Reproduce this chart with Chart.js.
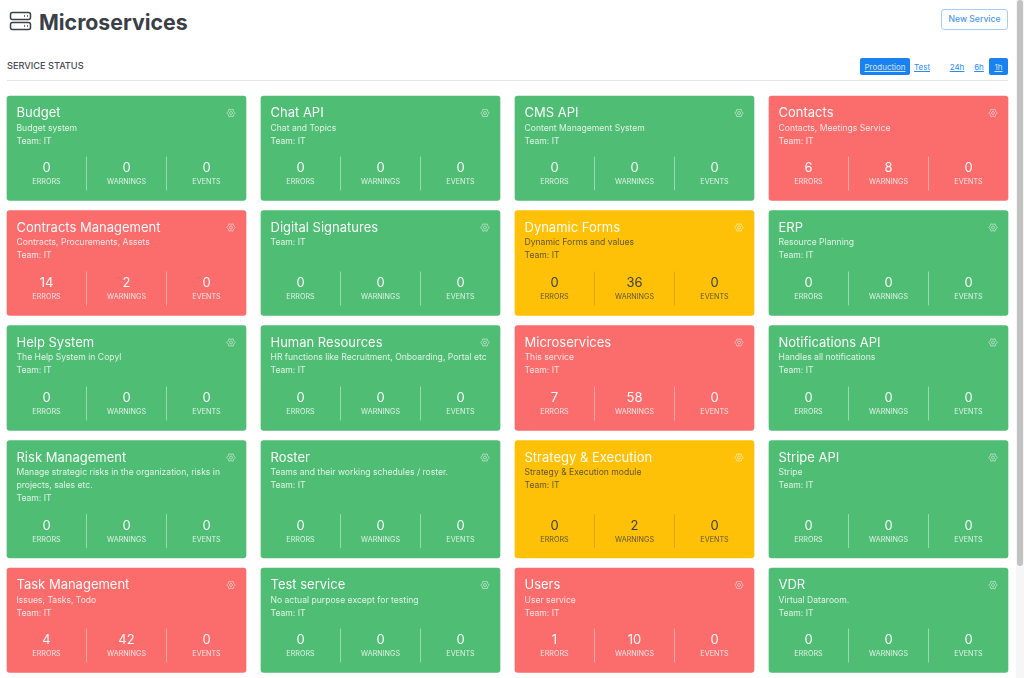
<!DOCTYPE html>
<html>
<head>
<meta charset="utf-8">
<title>Microservices</title>
<script src="https://cdn.jsdelivr.net/npm/chart.js@4/dist/chart.umd.min.js"></script>
<style>
html,body{margin:0;padding:0;background:#fff;overflow:hidden;font-family:Inter,"Noto Sans",sans-serif;color:#343a40}
#page{position:relative;width:1024px;height:678px;overflow:hidden}
#page > *{position:absolute}
h1{margin:0;left:39px;top:8px;font-size:21.3px;line-height:28px;font-weight:700;color:#3a4047}
#icon{left:9px;top:11px}
#newService{left:941px;top:9px;width:65px;height:19px;border:1px solid #a5cdf9;border-radius:3px;color:#4a97ef;font-size:8.6px;font-weight:500;line-height:19px;text-align:center}
#sectionTitle{left:7px;top:59px;font-size:9.2px;line-height:13px;font-weight:500;color:#454b52}
#rule{left:7px;top:80px;width:1001px;height:1px;background:#e3e5e8}
.tab{top:58px;height:17px;line-height:18px;font-size:8px;color:#2a8bf0;text-decoration:underline;text-align:center;border-radius:2px}
.tab.on{background:#1a82f0;color:#cfe4fc}
#chartWrap{left:-1px;top:90px;width:1017px;height:588px}
#track{left:1016px;top:0;width:8px;height:678px;background:#f6f6f6}
#thumb{left:1017px;top:0;width:6px;height:566px;background:#c2c2c2;border-radius:3px}
</style>
</head>
<body>
<div id="page">
  <svg id="icon" width="23" height="20" viewBox="0 0 23 20" fill="none" stroke="#3a4047" stroke-width="1.5">
    <rect x="1.5" y="1.5" width="20" height="7" rx="2"/>
    <rect x="1.5" y="11.5" width="20" height="7" rx="2"/>
    <path d="M15 5h1M18 5h1M15 15h1M18 15h1"/>
  </svg>
  <h1>Microservices</h1>
  <div id="newService">New Service</div>
  <div id="sectionTitle">SERVICE STATUS</div>
  <div class="tab on" style="left:860px;width:50px">Production</div>
  <div class="tab" style="left:912px;width:20px">Test</div>
  <div class="tab" style="left:947px;width:20px">24h</div>
  <div class="tab" style="left:971px;width:16px">6h</div>
  <div class="tab on" style="left:989px;width:19px">1h</div>
  <div id="rule"></div>
  <div id="chartWrap"><canvas id="cards" width="1017" height="588"></canvas></div>
  <div id="track"></div>
  <div id="thumb"></div>
</div>
<script>
// Service data, left to right, top to bottom
const serviceNames = ['Budget','Chat API','CMS API','Contacts',
  'Contracts Management','Digital Signatures','Dynamic Forms','ERP',
  'Help System','Human Resources','Microservices','Notifications API',
  'Risk Management','Roster','Strategy & Execution','Stripe API',
  'Task Management','Test service','Users','VDR'];
const descriptions = ['Budget system','Chat and Topics','Content Management System','Contacts, Meetings Service',
  'Contracts, Procurements, Assets','','Dynamic Forms and values','Resource Planning',
  'The Help System in Copyl','HR functions like Recruitment, Onboarding, Portal etc','This service','Handles all notifications',
  'Manage strategic risks in the organization, risks in projects, sales etc.','Teams and their working schedules / roster.','Strategy & Execution module','Stripe',
  'Issues, Tasks, Todo','No actual purpose except for testing','User service','Virtual Dataroom.'];
const teams = ['IT','IT','IT','IT','IT','IT','IT','IT','IT','IT','IT','IT','IT','IT','IT','IT','IT','IT','IT','IT'];
const errorCounts =   [0,0,0,6, 14,0,0,0, 0,0,7,0, 0,0,0,0, 4,0,1,0];
const warningCounts = [0,0,0,8, 2,0,36,0, 0,0,58,0, 0,0,2,0, 42,0,10,0];
const eventCounts =   [0,0,0,0, 0,0,0,0, 0,0,0,0, 0,0,0,0, 0,0,0,0];
const metricLabels = ['ERRORS','WARNINGS','EVENTS'];
const columns = ['col1','col2','col3','col4'];

// Layout of the card grid, in canvas pixels
const rowHeights = [104.5,105,105,117.5,104.5];
const rowGap = 10;
const COLS = 4;
const rowStarts = [];
let yCursor = 6;
rowHeights.forEach(h=>{ rowStarts.push(yCursor); yCursor += h + rowGap; });

const GREEN = '#4fbd74', RED = '#fb6c6c', AMBER = '#ffc107';
const statusColor = i => errorCounts[i] > 0 ? RED : warningCounts[i] > 0 ? AMBER : GREEN;

const cardData = serviceNames.map((_,i)=>{
  const row = Math.floor(i/COLS);
  return {x: columns[i%COLS], y:[rowStarts[row], rowStarts[row]+rowHeights[row]]};
});

function wrapText(ctx, text, maxWidth){
  const lines = [];
  let line = '';
  text.split(' ').forEach(word=>{
    const test = line ? line+' '+word : word;
    if(ctx.measureText(test).width > maxWidth && line){
      lines.push(line);
      line = word;
    } else line = test;
  });
  if(line) lines.push(line);
  return lines;
}

function drawGear(ctx, cx, cy, color){
  ctx.save();
  ctx.strokeStyle = color;
  ctx.lineWidth = 0.9;
  ctx.beginPath();
  for(let a=0;a<12;a++){
    const r = a%2 ? 3.2 : 4.2;
    const t = a*Math.PI/6;
    const px = cx+Math.cos(t)*r, py = cy+Math.sin(t)*r;
    if(a===0) ctx.moveTo(px,py); else ctx.lineTo(px,py);
  }
  ctx.closePath();
  ctx.stroke();
  ctx.beginPath();
  ctx.arc(cx,cy,1.5,0,Math.PI*2);
  ctx.stroke();
  ctx.restore();
}

// Writes the card text on top of the bars
const cardText = {
  id:'cardText',
  afterDatasetsDraw(chart){
    const ctx = chart.ctx;
    chart.getDatasetMeta(0).data.forEach((bar,i)=>{
      const left = bar.x - bar.width/2;
      const top = Math.min(bar.y, bar.base);
      const bottom = Math.max(bar.y, bar.base);
      const amber = statusColor(i) === AMBER;
      const soft = amber ? 'rgba(52,58,64,0.8)' : 'rgba(255,255,255,0.82)';
      const strong = amber ? '#3a4047' : 'rgba(255,255,255,0.95)';
      ctx.save();
      ctx.textBaseline = 'alphabetic';
      ctx.textAlign = 'left';

      ctx.fillStyle = 'rgba(255,255,255,0.96)';
      ctx.font = '400 13px Inter';
      ctx.fillText(serviceNames[i], left+9.5, top+21);

      ctx.font = '400 8.6px Inter';
      ctx.fillStyle = soft;
      let ty = top+34.5;
      if(descriptions[i]){
        wrapText(ctx, descriptions[i], 222).forEach(l=>{
          ctx.fillText(l, left+9.5, ty);
          ty += 13;
        });
      }
      ctx.fillText('Team: '+teams[i], left+9.5, ty);

      drawGear(ctx, left+224, top+17, amber ? 'rgba(255,255,255,0.6)' : 'rgba(255,255,255,0.55)');

      const values = [errorCounts[i], warningCounts[i], eventCounts[i]];
      ctx.textAlign = 'center';
      values.forEach((v,m)=>{
        const cx = left + 39.5 + m*80;
        ctx.fillStyle = strong;
        ctx.font = '400 13px Inter';
        ctx.fillText(String(v), cx, bottom-28.5);
        ctx.fillStyle = soft;
        ctx.font = '400 7.2px Inter';
        ctx.fillText(metricLabels[m], cx, bottom-16.5);
      });

      ctx.strokeStyle = amber ? 'rgba(52,58,64,0.18)' : 'rgba(255,255,255,0.42)';
      ctx.lineWidth = 1;
      [79.5,159.5].forEach(dx=>{
        ctx.beginPath();
        ctx.moveTo(left+dx, bottom-44);
        ctx.lineTo(left+dx, bottom-10);
        ctx.stroke();
      });
      ctx.restore();
    });
  }
};

function start(){
  new Chart(document.getElementById('cards'), {
    type:'bar',
    data:{
      labels:columns,
      datasets:[{
        data:cardData,
        backgroundColor:serviceNames.map((_,i)=>statusColor(i)),
        borderRadius:3,
        borderSkipped:false,
        barThickness:239
      }]
    },
    options:{
      responsive:false,
      animation:false,
      layout:{padding:{left:0.5,right:0.5}},
      scales:{
        x:{display:false},
        y:{display:false, reverse:true, min:0, max:588}
      },
      plugins:{legend:{display:false}, tooltip:{enabled:false}}
    },
    plugins:[cardText]
  });
}
// canvas text needs the font loaded before the first draw
if(document.fonts && document.fonts.load){
  Promise.all(['400 13px Inter','500 10px Inter'].map(f=>document.fonts.load(f))).then(start, start);
} else start();
</script>
</body>
</html>
